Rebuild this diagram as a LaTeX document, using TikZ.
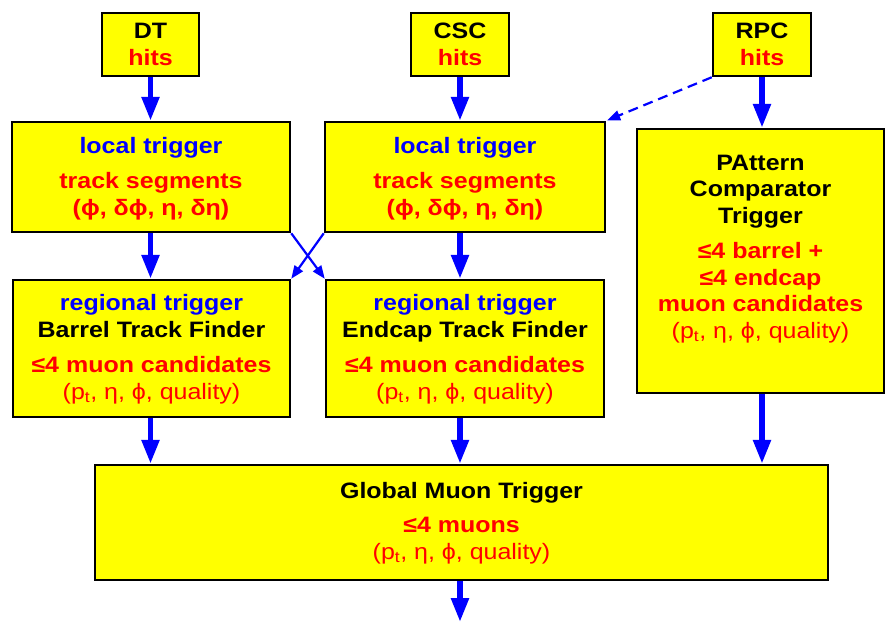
\documentclass[tikz,border=0pt]{standalone}
\usepackage{fontspec}
\setmainfont{Liberation Sans}[FakeStretch=1.12]
\usetikzlibrary{arrows.meta}
\definecolor{boxyellow}{RGB}{255,255,0}
\definecolor{trigblue}{RGB}{0,0,255}
\definecolor{trigred}{RGB}{255,0,0}
\newcommand{\ptq}{{\mdseries(p\textsubscript{t}, η, ϕ, quality)}}
\newcommand{\seg}{(ϕ, δϕ, η, δη)}
\begin{document}
\begin{tikzpicture}[x=1pt,y=-1pt,
  box/.style={draw=black, line width=2.5pt, fill=boxyellow, inner sep=0pt,
    align=center, font=\fontsize{22.3}{26.5}\selectfont\bfseries},
  txt/.style={align=center, inner sep=0pt, font=\fontsize{22.3}{26.5}\selectfont\bfseries},
  flow/.style={draw=trigblue, line width=5.5pt, -{Triangle[length=24pt,width=17pt]}},
  crossflow/.style={draw=trigblue, line width=2.2pt, -{Triangle[length=13pt,width=10pt]}},
  dashflow/.style={draw=trigblue, line width=2.2pt, dash pattern=on 10pt off 6pt,
    -{Triangle[length=13pt,width=10pt]}, shorten >=1pt}]
\useasboundingbox (0,0) rectangle (886,625);

% detector hit sources
\node[box, minimum width=97pt, minimum height=63pt] (dt) at (150.5,44.5)
  {DT\\\color{trigred}hits};
\node[box, minimum width=98pt, minimum height=63pt] (csc) at (460,44.5)
  {CSC\\\color{trigred}hits};
\node[box, minimum width=98pt, minimum height=63pt] (rpc) at (762,44.5)
  {RPC\\\color{trigred}hits};

% local triggers
\node[box, minimum width=278pt, minimum height=110pt] (ldt) at (151,177) {};
\node[txt] (ldttxt) at (151,178.5)
  {\color{trigblue}local trigger\\[9pt]\color{trigred}track segments\\\color{trigred}\seg};
\node[box, minimum width=280pt, minimum height=110pt] (lcsc) at (465,177) {};
\node[txt] (lcsctxt) at (465,178.5)
  {\color{trigblue}local trigger\\[9pt]\color{trigred}track segments\\\color{trigred}\seg};

% RPC pattern comparator trigger
\node[box, minimum width=247pt, minimum height=264pt] (pact) at (760.5,261) {};
\node[txt] (pacttxt) at (760.5,249)
  {PAttern\\Comparator\\Trigger\\[9pt]\color{trigred}≤4 barrel +\\\color{trigred}≤4 endcap\\
   \color{trigred}muon candidates\\\color{trigred}\ptq};

% regional triggers
\node[box, minimum width=277pt, minimum height=137pt] (rbt) at (151.5,348.5) {};
\node[txt] (rbttxt) at (151.5,349)
  {\color{trigblue}regional trigger\\Barrel Track Finder\\[9pt]\color{trigred}≤4 muon candidates\\\color{trigred}\ptq};
\node[box, minimum width=278pt, minimum height=137pt] (retf) at (465,348.5) {};
\node[txt] (retftxt) at (465,349)
  {\color{trigblue}regional trigger\\Endcap Track Finder\\[9pt]\color{trigred}≤4 muon candidates\\\color{trigred}\ptq};

% global muon trigger
\node[box, minimum width=733pt, minimum height=115pt] (glob) at (461.5,522.5) {};
\node[txt] (globtxt) at (461.5,523)
  {Global Muon Trigger\\[8pt]\color{trigred}≤4 muons\\\color{trigred}\ptq};
\coordinate (out) at (460,622);

% data flow
\draw[flow] (dt.south) -- (dt.south |- ldt.north);
\draw[flow] (csc.south) -- (csc.south |- lcsc.north);
\draw[flow] (rpc.south) -- (rpc.south |- pact.north);
\draw[dashflow] (rpc.south west) -- (lcsc.north east);
\draw[flow] (dt.south |- ldt.south) -- (dt.south |- rbt.north);
\draw[flow] (csc.south |- lcsc.south) -- (csc.south |- retf.north);
\draw[crossflow] (ldt.south east) -- (retf.north west);
\draw[crossflow] (lcsc.south west) -- (rbt.north east);
\draw[flow] (dt.south |- rbt.south) -- (dt.south |- glob.north);
\draw[flow] (csc.south |- retf.south) -- (csc.south |- glob.north);
\draw[flow] (rpc.south |- pact.south) -- (rpc.south |- glob.north);
\draw[flow] (csc.south |- glob.south) -- (out);
\end{tikzpicture}
\end{document}
